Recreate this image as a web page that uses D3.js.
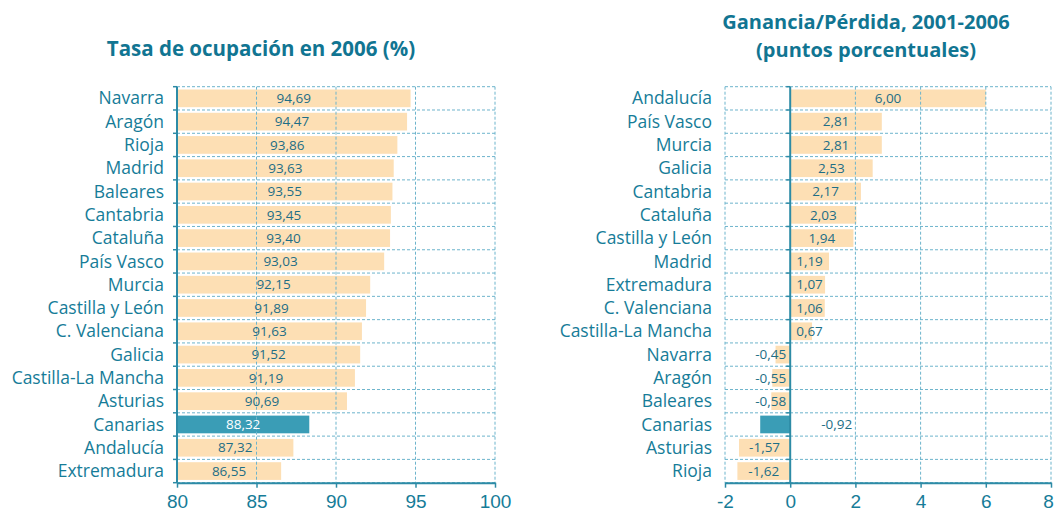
<!DOCTYPE html>
<html>
<head>
<meta charset="utf-8">
<script src="https://cdn.jsdelivr.net/npm/d3@7"></script>
<style>
  body { margin: 0; background: #fff; }
  svg { display: block; font-family: 'Open Sans', sans-serif; }
  .dash { stroke: #6db4cc; stroke-width: 1; stroke-dasharray: 3 2; fill: none; }
</style>
</head>
<body>
<div id="graf"></div>
<script>
// ocupacion 2006
const regionesTasa = ['Navarra', 'Aragón', 'Rioja', 'Madrid', 'Baleares', 'Cantabria', 'Cataluña',
  'País Vasco', 'Murcia', 'Castilla y León', 'C. Valenciana', 'Galicia', 'Castilla-La Mancha',
  'Asturias', 'Canarias', 'Andalucía', 'Extremadura']
const valoresTasa = [94.69, 94.47, 93.86, 93.63, 93.55, 93.45, 93.40, 93.03, 92.15, 91.89, 91.63,
  91.52, 91.19, 90.69, 88.32, 87.32, 86.55]
const ticksTasa = [80, 85, 90, 95, 100]

// ganancia / perdida 2001-2006
const regionesGan = ['Andalucía', 'País Vasco', 'Murcia', 'Galicia', 'Cantabria', 'Cataluña',
  'Castilla y León', 'Madrid', 'Extremadura', 'C. Valenciana', 'Castilla-La Mancha', 'Navarra',
  'Aragón', 'Baleares', 'Canarias', 'Asturias', 'Rioja']
const valoresGan = [6.00, 2.81, 2.81, 2.53, 2.17, 2.03, 1.94, 1.19, 1.07, 1.06, 0.67, -0.45,
  -0.55, -0.58, -0.92, -1.57, -1.62]
const ticksGan = [-2, 0, 2, 4, 6, 8]

const destacado = 'Canarias'

const ancho = 1055
const alto = 513
const colTexto = '#167c98'
const colValor = '#1d6e86'
const colTitulo = '#117592'
const colBarra = '#fddfb4'
const colDestacada = '#3a9db6'
const colEje = '#2d8ba6'

const svg = d3.select('#graf')
  .append('svg')
  .attr('width', ancho)
  .attr('height', alto)

const fmt = v => v.toFixed(2).replace('.', ',')

function panel(opts) {
  const { regiones, valores, ticks, x0, x1, dominio, base } = opts
  const top = 86.7
  const bottom = 482.7

  const x = d3.scaleLinear().domain(dominio).range([x0, x1])
  const y = d3.scaleBand()
    .domain(regiones)
    .range([top, bottom])
    .paddingInner(0.24)
    .paddingOuter(0.12)
  const paso = y.step()

  const g = svg.append('g')
  const datos = regiones.map((r, i) => ({ region: r, valor: valores[i] }))

  // barras
  g.selectAll('rect.barra')
    .data(datos)
    .enter()
    .append('rect')
      .attr('class', 'barra')
      .attr('x', d => x(Math.min(base, d.valor)))
      .attr('y', d => y(d.region))
      .attr('width', d => Math.abs(x(d.valor) - x(base)))
      .attr('height', y.bandwidth())
      .attr('fill', d => d.region == destacado ? colDestacada : colBarra)

  // rejilla
  const filas = d3.range(regiones.length + 1).map(k => top + k * paso)
  g.selectAll('line.hgrid')
    .data(filas)
    .enter()
    .append('line')
      .attr('class', 'dash')
      .attr('x1', x0).attr('x2', x1)
      .attr('y1', d => d).attr('y2', d => d)
  g.selectAll('line.vgrid')
    .data(ticks.filter(t => t != base))
    .enter()
    .append('line')
      .attr('class', 'dash')
      .attr('x1', d => x(d)).attr('x2', d => x(d))
      .attr('y1', top).attr('y2', bottom)

  // eje base (vertical)
  g.append('line')
    .attr('x1', x(base)).attr('x2', x(base))
    .attr('y1', top).attr('y2', bottom)
    .attr('stroke', colEje).attr('stroke-width', 2)
  g.selectAll('line.tickY')
    .data(filas)
    .enter()
    .append('line')
      .attr('x1', x(base) - 4).attr('x2', x(base))
      .attr('y1', d => d).attr('y2', d => d)
      .attr('stroke', colEje).attr('stroke-width', 1.5)

  // eje x
  const ejeX = g.append('g')
    .attr('transform', `translate(0, ${bottom})`)
    .call(d3.axisBottom(x).tickValues(ticks).tickSize(5).tickSizeOuter(0).tickFormat(d => d))
  ejeX.select('.domain').attr('stroke', colEje).attr('stroke-width', 2)
  ejeX.selectAll('.tick line').attr('stroke', colEje).attr('stroke-width', 1.5)
  ejeX.selectAll('.tick text')
    .attr('y', 12)
    .attr('fill', colTexto)
    .style('font-size', '19px')
  // el ultimo valor queda pegado al borde
  ejeX.selectAll('.tick text')
    .filter(d => d == dominio[1])
    .attr('x', d => (x(d) + 6 > ancho ? -3 : 0))

  // etiquetas de region
  g.selectAll('text.region')
    .data(datos)
    .enter()
    .append('text')
      .attr('x', x0 - 13)
      .attr('y', d => y(d.region) + y.bandwidth() / 2)
      .attr('dy', '0.35em')
      .attr('text-anchor', 'end')
      .attr('fill', colTexto)
      .style('font-size', '17.5px')
      .text(d => d.region)

  // valores
  g.selectAll('text.valor')
    .data(datos)
    .enter()
    .append('text')
      .attr('y', d => y(d.region) + y.bandwidth() / 2)
      .attr('dy', '0.35em')
      .attr('fill', d => (d.region == destacado && base == dominio[0]) ? '#ffffff' : colValor)
      .style('font-size', '13.5px')
      .each(function (d) {
        const t = d3.select(this)
        const w = Math.abs(x(d.valor) - x(base))
        if (d.region == destacado && d.valor < 0) {
          t.attr('x', x(base) + 31).attr('text-anchor', 'start')
        } else if (w > 50) {
          t.attr('x', (x(d.valor) + x(base)) / 2).attr('text-anchor', 'middle')
        } else if (d.valor >= 0) {
          t.attr('x', x(base) + 6).attr('text-anchor', 'start')
        } else {
          t.attr('x', x(base) - 4).attr('text-anchor', 'end')
        }
      })
      .text(d => fmt(d.valor))
}

panel({
  regiones: regionesTasa, valores: valoresTasa, ticks: ticksTasa,
  x0: 177, x1: 495, dominio: [80, 100], base: 80
})
panel({
  regiones: regionesGan, valores: valoresGan, ticks: ticksGan,
  x0: 725, x1: 1051, dominio: [-2, 8], base: 0
})

// titulos
svg.append('text')
  .attr('x', 261).attr('y', 56)
  .attr('text-anchor', 'middle')
  .attr('fill', colTitulo)
  .style('font-size', '20.5px').style('font-weight', 'bold')
  .text('Tasa de ocupación en 2006 (%)')
svg.append('text')
  .attr('x', 866).attr('y', 29)
  .attr('text-anchor', 'middle')
  .attr('fill', colTitulo)
  .style('font-size', '20px').style('font-weight', 'bold')
  .text('Ganancia/Pérdida, 2001-2006')
svg.append('text')
  .attr('x', 866).attr('y', 57)
  .attr('text-anchor', 'middle')
  .attr('fill', colTitulo)
  .style('font-size', '20px').style('font-weight', 'bold')
  .text('(puntos porcentuales)')
</script>
</body>
</html>
